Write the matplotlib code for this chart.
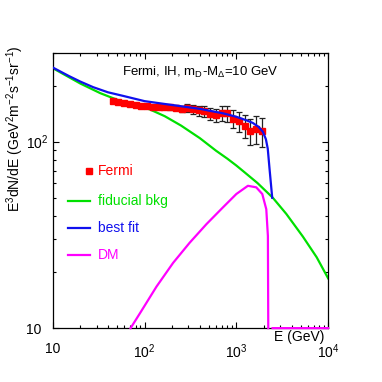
import matplotlib
matplotlib.use("Agg")
import matplotlib.pyplot as plt
from matplotlib.ticker import FixedLocator, NullFormatter, FixedFormatter

plt.rcParams['font.family'] = ['Liberation Sans', 'DejaVu Sans']
plt.rcParams['mathtext.fontset'] = 'custom'
plt.rcParams['mathtext.rm'] = 'Liberation Sans'
plt.rcParams['mathtext.it'] = 'Liberation Sans:italic'
plt.rcParams['mathtext.bf'] = 'Liberation Sans:bold'

nan = float('nan')

# ---- data ----
fermi_E = [45, 51.9, 59.9, 69, 80, 92, 106, 123, 142, 164, 190, 219, 253, 292,
           338, 390, 450, 520, 600, 695, 800, 925, 1070, 1235, 1425, 1645, 1900]
fermi_F = [166, 164, 161, 159, 157, 156, 155, 154, 153, 153, 153, 152, 150, 152,
           149, 147, 146, 141, 139, 142, 142, 133, 129, 122, 114, 117, 114]
fermi_err = [2.5, 2.5, 2.5, 2.5, 3, 3, 3, 4, 4, 4, 5, 5, 6, 7,
             8, 9, 10, 10, 11, 13, 14, 15, 16, 17, 18, 20, 20]

bkg_E = [10, 20, 33, 50, 80, 114, 166, 250, 324, 400, 600, 800, 1000, 1230,
         1700, 2500, 3500, 5300, 7500, 10000]
bkg_F = [248, 205, 182, 168, 157, 149, 137, 122, 112, 104.5, 89.5, 81, 74.5,
         68.5, 60, 50, 41, 31, 24, 18.5]

fit_E = [10, 15, 20, 27.6, 40, 58.5, 100, 205, 400, 714, 1000, 1300, 1513,
         1750, 1946, 2100, 2200, 2300, 2460]
fit_F = [250, 225, 210, 196, 184, 176, 165, 157, 150, 142, 136, 130, 126,
         120, 113, 103, 91.6, 71.5, 50]

dm_E = [70.5, 89, 135, 205, 310, 472, 714, 1000, 1337, 1648, 1917, 2120,
        2207, 2228, nan, 2480, 10000]
dm_F = [10, 12.0, 16.7, 22.4, 28.7, 36.1, 44.4, 52.4, 58, 56.9, 52.4, 43.4,
        31.2, 10, nan, 10, 10]

xticks = [10, 100, 1000, 10000]
xticklabels = ['10', r'10$^{2}$', r'10$^{3}$', r'10$^{4}$']
yticks = [10, 100]
yticklabels = ['10', r'10$^{2}$']

GREEN = '#00e000'
BLUE = '#1010ee'
MAG = '#ff00ff'
RED = '#ff0000'

fig = plt.figure(figsize=(3.82, 3.82), dpi=100)
ax = fig.add_axes([0.138, 0.141, 0.721, 0.721])
ax.set_xscale('log')
ax.set_yscale('log')
ax.set_xlim(10, 10000)
ax.set_ylim(10, 300)

ax.plot(bkg_E, bkg_F, color=GREEN, lw=1.6, zorder=2)
ax.plot(dm_E, dm_F, color=MAG, lw=1.6, zorder=3, clip_on=False)
ax.errorbar(fermi_E, fermi_F, yerr=fermi_err, fmt='s', color=RED, ms=3.8,
            mec=RED, ecolor='#222222', elinewidth=0.9, capsize=2.0,
            capthick=0.9, zorder=3)
ax.plot(fit_E, fit_F, color=BLUE, lw=1.6, zorder=4)

# axes / ticks
ax.xaxis.set_major_locator(FixedLocator(xticks))
ax.xaxis.set_major_formatter(FixedFormatter(xticklabels))
ax.yaxis.set_major_locator(FixedLocator(yticks))
ax.yaxis.set_major_formatter(FixedFormatter(yticklabels))
ax.xaxis.set_minor_formatter(NullFormatter())
ax.yaxis.set_minor_formatter(NullFormatter())
ax.tick_params(which='both', direction='in', top=True, right=True,
               labelsize=10, width=0.8)
ax.tick_params(which='major', length=4.5)
ax.tick_params(which='minor', length=2.2)
ax.tick_params(axis='x', pad=10)
ax.tick_params(axis='y', pad=19)
for lbl in ax.get_yticklabels():
    lbl.set_horizontalalignment('left')
for s in ax.spines.values():
    s.set_linewidth(0.9)

# legend (drawn by hand, ROOT style)
tr = ax.transAxes
ax.plot([0.133], [0.570], 's', color=RED, ms=3.8, transform=tr)
ax.text(0.165, 0.570, 'Fermi', color=RED, fontsize=10, va='center', transform=tr)
for y, c, lab in [(0.461, GREEN, 'fiducial bkg'), (0.363, BLUE, 'best fit'),
                  (0.265, MAG, 'DM')]:
    ax.plot([0.057, 0.135], [y, y], color=c, lw=1.6, transform=tr)
    ax.text(0.165, y, lab, color=c, fontsize=10, va='center', transform=tr)

ax.text(0.535, 0.93, r'Fermi, IH, m$_{\mathrm{D}}$-M$_{\Delta}$=10 GeV',
        fontsize=9.5, ha='center', va='center', transform=tr)

fig.text(0.848, 0.118, 'E (GeV)', fontsize=10, ha='right', va='center')
fig.text(0.04, 1 - 45 / 382,
         r'E$^{3}$dN/dE (GeV$^{2}$m$^{-2}$s$^{-1}$sr$^{-1}$)',
         fontsize=10, rotation=90, ha='center', va='top')

fig.savefig('out.png', dpi=100)
